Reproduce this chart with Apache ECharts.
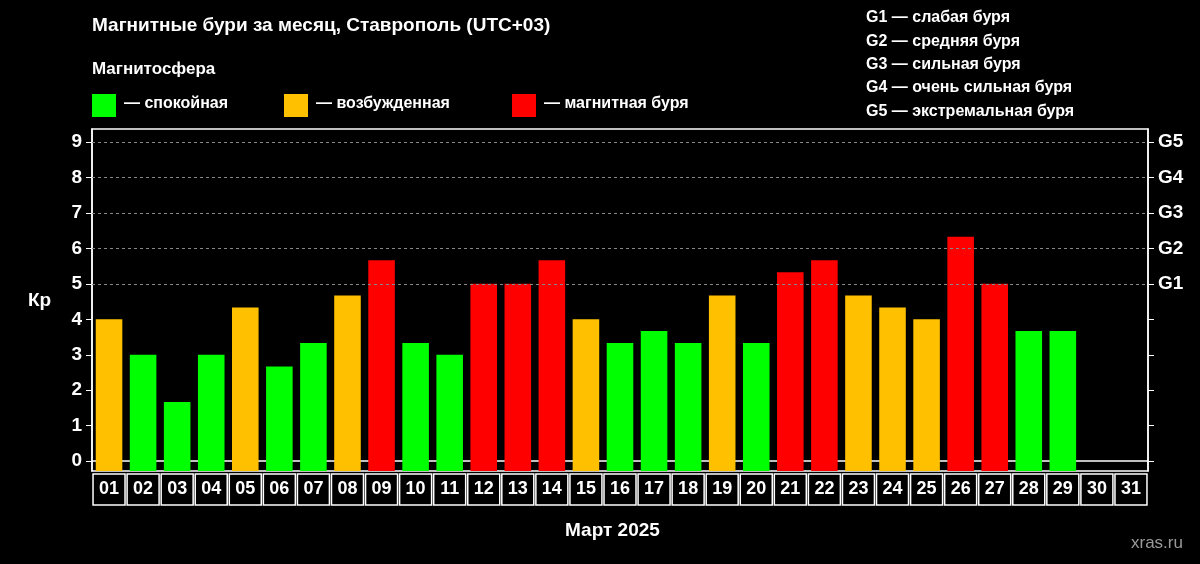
<!DOCTYPE html>
<html><head><meta charset="utf-8">
<script src="https://cdn.jsdelivr.net/npm/echarts@6/dist/echarts.min.js"></script>
<style>html,body{margin:0;background:#000}#c{width:1200px;height:564px}</style>
</head><body><div id="c"></div>
<script>
const days = ['01','02','03','04','05','06','07','08','09','10','11','12','13','14','15','16','17','18','19','20','21','22','23','24','25','26','27','28','29','30','31'];
const kp = [4,3,1.67,3,4.33,2.67,3.33,4.67,5.67,3.33,3,5,5,5.67,4,3.33,3.67,3.33,4.67,3.33,5.33,5.67,4.67,4.33,4,6.33,5,3.67,3.67,null,null];
const kpTicks = [0,1,2,3,4,5,6,7,8,9];
const gLabels = {5:'G1',6:'G2',7:'G3',8:'G4',9:'G5'};
const legendItems = ['— спокойная','— возбужденная','— магнитная буря'];
const stormScale = ['G1 — слабая буря','G2 — средняя буря','G3 — сильная буря','G4 — очень сильная буря','G5 — экстремальная буря'];
const COLORS = ['#00ff00','#ffc000','#ff0000'];
const OFF = 0.28, YMAX = 9.37;
function col(v){return v>=5?COLORS[2]:(v>=4?COLORS[1]:COLORS[0]);}
const F = 'Liberation Sans, Arial, sans-serif';
const chart = echarts.init(document.getElementById('c'));
const graphics = [
 {type:'text',left:92,top:16,style:{text:'Магнитные бури за месяц, Ставрополь (UTC+03)',fill:'#fff',font:'bold 19px '+F}},
 {type:'text',left:92,top:61,style:{text:'Магнитосфера',fill:'#fff',font:'bold 17px '+F}},
 {type:'text',left:28,top:291,style:{text:'Кр',fill:'#fff',font:'bold 19px '+F}},
 {type:'text',left:565,top:521,style:{text:'Март 2025',fill:'#fff',font:'bold 19px '+F}},
 {type:'text',left:1131,top:535,style:{text:'xras.ru',fill:'#9a9a9a',font:'17px '+F}}
];
const lx=[92,284,512];
legendItems.forEach((t,i)=>{
 graphics.push({type:'rect',shape:{x:lx[i],y:94,width:24,height:23},style:{fill:COLORS[i]}});
 graphics.push({type:'text',left:lx[i]+32,top:96,style:{text:t,fill:'#fff',font:'bold 16px '+F}});
});
stormScale.forEach((t,i)=>graphics.push({type:'text',left:866,top:10+i*23.3,style:{text:t,fill:'#fff',font:'bold 16px '+F}}));
chart.setOption({
 backgroundColor:'#000',
 animation:false,
 graphic:graphics,
 grid:{left:92,right:52,top:129,bottom:93,show:true,borderColor:'#fff',borderWidth:1.5,backgroundColor:'transparent'},
 xAxis:{type:'category',data:days,axisLine:{lineStyle:{color:'#fff',width:1.5}},axisTick:{show:false},
  axisLabel:{interval:0,color:'#fff',fontFamily:F,fontWeight:'bold',fontSize:18,margin:3,width:30,height:31,lineHeight:31,align:'center',
   borderColor:'#fff',borderWidth:1.5,padding:[0,1,0,1]}},
 yAxis:[
  {type:'value',min:-OFF,max:YMAX,position:'left',splitLine:{show:false},
   axisLine:{show:true,lineStyle:{color:'#fff',width:1.5}},
   axisTick:{show:true,length:6,customValues:kpTicks,lineStyle:{color:'#fff'}},
   axisLabel:{customValues:kpTicks,color:'#fff',fontFamily:F,fontWeight:'bold',fontSize:19,margin:10}},
  {type:'value',min:-OFF,max:YMAX,position:'right',splitLine:{show:false},
   axisLine:{show:true,lineStyle:{color:'#fff',width:1.5}},
   axisTick:{show:true,length:6,customValues:kpTicks,lineStyle:{color:'#fff'}},
   axisLabel:{customValues:kpTicks,color:'#fff',fontFamily:F,fontWeight:'bold',fontSize:19,margin:10,formatter:v=>gLabels[Math.round(v)]||''}},
  {type:'value',min:0,max:YMAX+OFF,show:false}
 ],
 series:[{type:'bar',yAxisIndex:2,barCategoryGap:'22%',
  data:kp.map(v=>v==null?null:{value:v+OFF,itemStyle:{color:col(v)}}),
  markLine:{silent:true,symbol:'none',label:{show:false},lineStyle:{color:'#888',type:[3,3],width:1},
   data:[5,6,7,8,9].map(v=>({yAxis:v+OFF}))},
  z:3},
  ]
});
</script></body></html>
